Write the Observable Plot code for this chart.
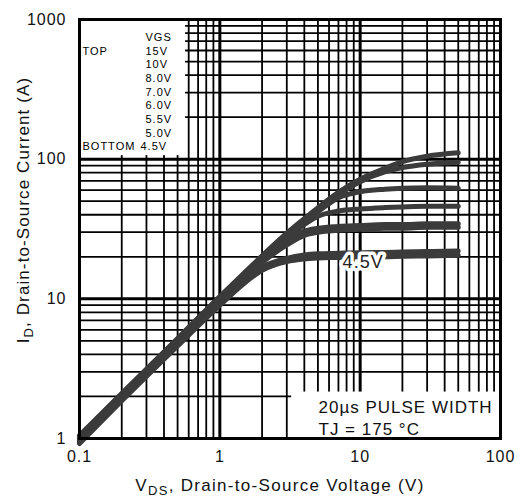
<!DOCTYPE html>
<html><head><meta charset="utf-8">
<script src="https://cdn.jsdelivr.net/npm/d3@7"></script>
<script src="https://cdn.jsdelivr.net/npm/@observablehq/plot@0.6"></script>
<style>
body{margin:0;background:#fff;}
#chart svg{font-family:"Liberation Sans",Arial,Helvetica,sans-serif;}
#chart svg text{letter-spacing:1px;}
</style></head><body><div id="chart"></div>
<script>
// V_DS sample points (V)
const vds   = [0.1, 0.2, 0.5, 1, 1.5, 2, 3, 4, 5, 7, 10, 15, 20, 30, 50];
// I_D (A) for each VGS curve
const id15  = [1.05, 2.1, 5.2, 10.4, 15.4, 20.3, 29.5, 37.5, 45, 58, 72, 86, 96, 105, 111];
const id10  = [1.04, 2.08, 5.15, 10.3, 15.2, 20, 29, 37, 44, 56, 69, 81, 87, 92, 95];
const id8   = [1.02, 2.05, 5.1, 10.1, 15, 19.7, 28.3, 35.5, 42, 53, 58.5, 61, 62, 62.5, 62];
const id7   = [1.0, 2.02, 5.0, 9.9, 14.7, 19.3, 27.3, 34, 39, 42.5, 44, 45, 45.5, 46, 46];
const id6   = [0.98, 1.98, 4.9, 9.7, 14.4, 18.8, 25.8, 30.5, 32, 33, 33.5, 34, 34, 34.5, 34.5];
const id55  = [0.96, 1.94, 4.8, 9.5, 14.1, 18.2, 24.3, 28.5, 30, 31, 31.5, 32, 32, 32.5, 32.5];
const id5   = [0.94, 1.9, 4.7, 9.2, 13.5, 16.8, 19.5, 20.6, 21, 21.2, 21.4, 21.5, 21.6, 21.8, 22];
const id45  = [0.92, 1.86, 4.6, 9.0, 13, 16, 18.5, 19.3, 19.6, 19.8, 20, 20, 20.2, 20.3, 20.5];
const vgsLabels = ["15V", "10V", "8.0V", "7.0V", "6.0V", "5.5V", "5.0V", "4.5V"];
const series = [id15, id10, id8, id7, id6, id55, id5, id45];

const xTicks = [0.1, 1, 10, 100];
const yTicks = [1, 10, 100, 1000];
const legendRows = ["VGS", "15V", "10V", "8.0V", "7.0V", "6.0V", "5.5V", "5.0V", "4.5V"];
const legendSide = ["", "TOP", "", "", "", "", "", "", "BOTTOM"];
const noteLines = ["20µs PULSE WIDTH", "TJ = 175 °C"];
const curveLabel = {text: "4.5V", vds: 10.5, id: 20};
const legendBox = {x1: 0.1, x2: 0.57, y1: 106, y2: 1000};
const noteBox = {x1: 3.25, x2: 100, y1: 1, y2: 2.15};

const rows = series.flatMap((s, k) => s.map((v, i) => ({vgs: vgsLabels[k], vds: vds[i], id: v})));
const xGrid = d3.range(-1, 2).flatMap(e => d3.range(1, 10).map(m => +(m * 10 ** e).toPrecision(3))).concat([100]);
const yGrid = d3.range(0, 3).flatMap(e => d3.range(1, 10).map(m => m * 10 ** e)).concat([1000]);
const isDecade = d => Math.abs(Math.log10(d) - Math.round(Math.log10(d))) < 1e-9;

const marks = [
  Plot.ruleX(xGrid, {x: d => d, stroke: "#000", strokeWidth: d => isDecade(d) ? 3 : 1.8}),
  Plot.ruleY(yGrid, {y: d => d, stroke: "#000", strokeWidth: d => isDecade(d) ? 3 : 1.8}),
  Plot.rect([legendBox], {x1: "x1", x2: "x2", y1: "y1", y2: "y2", fill: "#fff"}),
  Plot.rect([noteBox], {x1: "x1", x2: "x2", y1: "y1", y2: "y2", fill: "#fff"}),
  Plot.line(rows, {x: "vds", y: "id", z: "vgs", stroke: "#3b3b3b", strokeWidth: 5, curve: "monotone-x"}),
  Plot.text([curveLabel], {x: "vds", y: "id", text: "text", fontSize: 18, fill: "#222", stroke: "#fff", strokeWidth: 7, paintOrder: "stroke", dy: 5}),
  Plot.frame({stroke: "#000", strokeWidth: 3})
];
legendRows.forEach((t, i) => {
  marks.push(Plot.text([t], {text: d => d, frameAnchor: "top-left", textAnchor: "start",
    dx: t === "4.5V" ? 61 : 66, dy: 13.5 + 13.7 * i, fontSize: 11, fill: "#000"}));
  if (legendSide[i]) marks.push(Plot.text([legendSide[i]], {text: d => d, frameAnchor: "top-left", textAnchor: "start",
    dx: 3, dy: 13.5 + 13.7 * i, fontSize: 11, fill: "#000"}));
});
noteLines.forEach((t, i) => {
  marks.push(Plot.text([t], {text: d => d, frameAnchor: "top-left", textAnchor: "start",
    dx: 239, dy: 381 + 22 * i, fontSize: 17, fill: "#111"}));
});

const chart = Plot.plot({
  width: 525, height: 499,
  marginLeft: 79, marginTop: 19, marginRight: 25, marginBottom: 61,
  x: {type: "log", domain: [0.1, 100], ticks: xTicks, tickFormat: d => String(d), tickSize: 0, tickPadding: 12, label: null},
  y: {type: "log", domain: [1, 1000], ticks: yTicks, tickFormat: d => String(d), tickSize: 0, tickPadding: 13, label: null},
  style: {fontSize: "16px", background: "#fff", color: "#111"},
  marks
});
document.getElementById("chart").appendChild(chart);

const svg = d3.select(chart);
const xt = svg.append("text").attr("x", 280).attr("y", 491).attr("text-anchor", "middle")
  .attr("font-size", 17).attr("fill", "#111").style("letter-spacing", "1.3px");
xt.append("tspan").text("V");
xt.append("tspan").attr("dy", 4).attr("font-size", 13).text("DS");
xt.append("tspan").attr("dy", -4).text(", Drain-to-Source Voltage (V)");
const yt = svg.append("text").attr("transform", "translate(29,210) rotate(-90)").attr("text-anchor", "middle")
  .attr("font-size", 17).attr("fill", "#111").style("letter-spacing", "1.1px");
yt.append("tspan").text("I");
yt.append("tspan").attr("dy", 4).attr("font-size", 13).text("D");
yt.append("tspan").attr("dy", -4).text(", Drain-to-Source Current (A)");
</script></body></html>
